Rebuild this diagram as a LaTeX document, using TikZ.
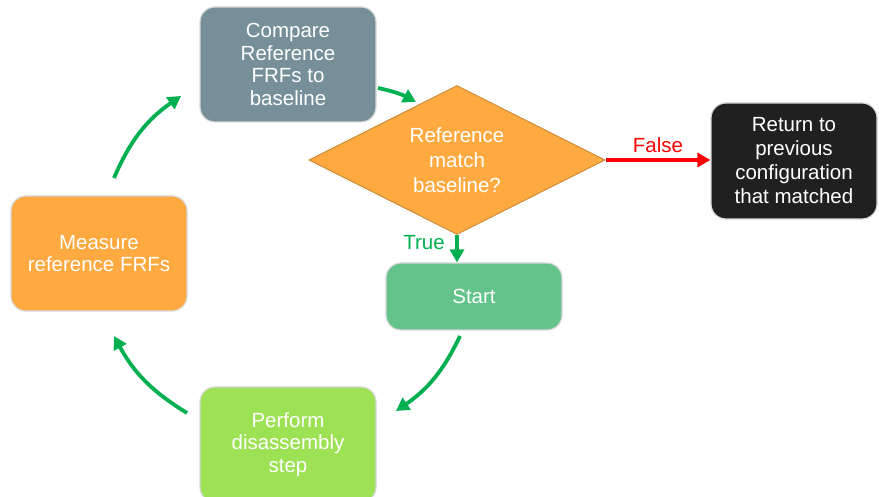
\documentclass[tikz,border=0pt]{standalone}
\usepackage{fontspec}
\setmainfont{Liberation Sans}
\usetikzlibrary{shapes.geometric,arrows.meta}
\definecolor{cgray}{RGB}{119,143,153}
\definecolor{corange}{RGB}{255,170,64}
\definecolor{cdorange}{RGB}{205,140,55}
\definecolor{cblack}{RGB}{32,32,32}
\definecolor{cstart}{RGB}{99,195,138}
\definecolor{cperf}{RGB}{157,225,84}
\definecolor{carrow}{RGB}{0,176,80}
\definecolor{cred}{RGB}{255,0,0}
\definecolor{cedge}{RGB}{215,215,215}
\tikzset{
  box/.style={draw=cedge, line width=1.2pt, rounded corners=15pt, text=white,
    align=center, minimum width=176pt, minimum height=115pt, inner sep=0pt,
    font=\fontsize{20.5}{22.5}\selectfont},
  cyc/.style={draw=carrow, line width=3.8pt, -{Triangle[length=13pt,width=14pt]}},
  lbl/.style={font=\fontsize{20.5}{22}\selectfont, inner sep=0pt}
}
\begin{document}
\begin{tikzpicture}[x=1pt,y=1pt]
\useasboundingbox (0,0) rectangle (879,497);
\node[box, fill=cgray] (cmp) at (288,432.5) {Compare\\Reference\\FRFs to\\baseline};
\node[diamond, draw=cdorange, line width=1pt, fill=corange, text=white, align=center,
      minimum width=296pt, minimum height=149pt, aspect=1.99, inner sep=0pt,
      font=\fontsize{20.5}{25}\selectfont] (dec) at (457,337) {Reference\\match\\baseline?};
\node[box, fill=cblack, minimum width=166pt, minimum height=116pt,
      font=\fontsize{20.5}{24}\selectfont] (ret) at (794,336)
  {Return to\\previous\\configuration\\that matched};
\node[box, fill=corange] (mea) at (99,243.5) {Measure\\reference FRFs};
\node[box, fill=cstart, minimum height=67pt] (sta) at (474,200.5) {Start};
\node[box, fill=cperf] (per) at (288,52.5) {Perform\\disassembly\\step};
% cycle arrow end points
\coordinate (a1) at (114,319);
\coordinate (a2) at (181,401);
\coordinate (b1) at (378,409);
\coordinate (b2) at (416,395);
\coordinate (c1) at (460,161);
\coordinate (c2) at (396,86);
\coordinate (d1) at (187,84);
\coordinate (d2) at (114,161);
\draw[cyc] (a1) to[bend left=16] (a2);
\draw[cyc] (b1) to[bend left=8] (b2);
\draw[cyc] (c1) to[bend left=15] (c2);
\draw[cyc] (d1) to[bend left=15] (d2);
% decision arrows
\draw[cyc] (dec.south) -- (dec.south |- sta.north);
\draw[cyc, draw=cred, -{Triangle[length=13pt,width=14pt]}] (dec.east) -- (dec.east -| ret.west);
\node[lbl, text=carrow] (tl) at (424,254) {True};
\node[lbl, text=cred] (fl) at (658,352) {False};
\end{tikzpicture}
\end{document}
